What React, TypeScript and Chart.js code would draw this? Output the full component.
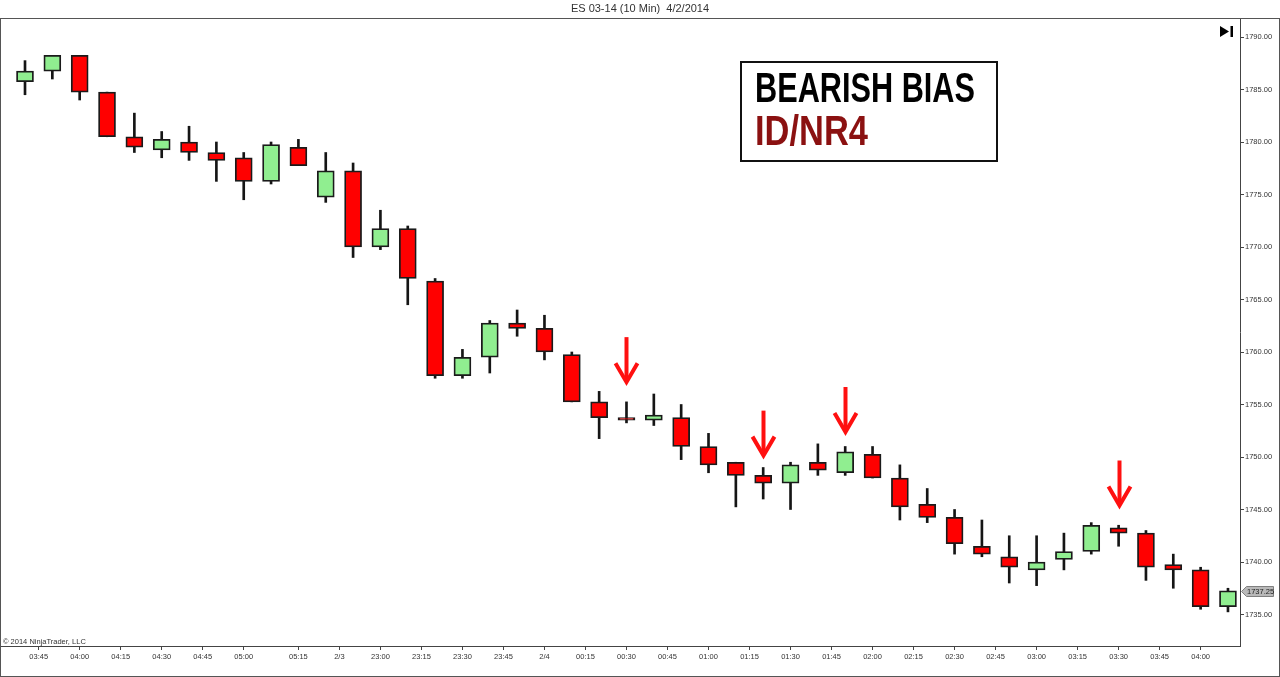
import React, { useEffect, useRef } from "react";
import { Chart, registerables } from "chart.js";

Chart.register(...registerables);

// ---- Data (ES 03-14, 10 Min bars) ----
const opens = [
  1785.75, 1786.75, 1788.25, 1784.75, 1780.5, 1779.25, 1780.0, 1779.0, 1778.5, 1776.25,
  1779.5, 1774.75, 1777.25, 1770.0, 1771.75, 1766.75, 1757.75, 1759.5, 1762.75, 1762.25,
  1759.75, 1755.25, 1753.75, 1753.5, 1753.75, 1751.0, 1749.5, 1748.25, 1747.5, 1749.5,
  1748.5, 1750.25, 1748.0, 1745.5, 1744.25, 1741.5, 1740.5, 1739.25, 1740.25, 1741.0,
  1743.25, 1742.75, 1739.75, 1739.25, 1735.75,
];
const highs = [
  1787.75, 1788.25, 1788.25, 1784.75, 1782.75, 1781.0, 1781.5, 1780.0, 1779.0, 1780.0,
  1780.25, 1779.0, 1778.0, 1773.5, 1772.0, 1767.0, 1760.25, 1763.0, 1764.0, 1763.5,
  1760.0, 1756.25, 1755.25, 1756.0, 1755.0, 1752.25, 1749.5, 1749.0, 1749.5, 1751.25,
  1751.0, 1751.0, 1749.25, 1747.0, 1745.0, 1744.0, 1742.5, 1742.5, 1742.75, 1743.75,
  1743.5, 1743.0, 1740.75, 1739.5, 1737.5,
];
const lows = [
  1784.5, 1786.0, 1784.0, 1780.5, 1779.0, 1778.5, 1778.25, 1776.25, 1774.5, 1776.0,
  1777.75, 1774.25, 1769.0, 1769.75, 1764.5, 1757.5, 1757.5, 1758.0, 1761.5, 1759.25,
  1755.25, 1751.75, 1753.25, 1753.0, 1749.75, 1748.5, 1745.25, 1746.0, 1745.0, 1748.25,
  1748.25, 1748.0, 1744.0, 1743.75, 1740.75, 1740.5, 1738.0, 1737.75, 1739.25, 1740.75,
  1741.5, 1738.25, 1737.5, 1735.5, 1735.25,
];
const closes = [
  1786.75, 1788.25, 1784.75, 1780.5, 1779.5, 1780.25, 1779.0, 1778.25, 1776.25, 1779.75,
  1777.75, 1777.25, 1770.0, 1771.75, 1767.0, 1757.75, 1759.5, 1762.75, 1762.25, 1760.0,
  1755.25, 1753.75, 1753.5, 1754.0, 1751.0, 1749.25, 1748.25, 1747.5, 1749.25, 1748.75,
  1750.5, 1748.0, 1745.25, 1744.25, 1741.75, 1740.75, 1739.5, 1740.0, 1741.0, 1743.5,
  1742.75, 1739.5, 1739.25, 1735.75, 1737.25,
];

// x-axis tick positions (bar index units) and labels
const xTickPositions = [
  0.5, 2, 3.5, 5, 6.5, 8, 10, 11.5, 13, 14.5, 16, 17.5, 19, 20.5, 22,
  23.5, 25, 26.5, 28, 29.5, 31, 32.5, 34, 35.5, 37, 38.5, 40, 41.5, 43,
];
const xTickLabels = [
  "03:45", "04:00", "04:15", "04:30", "04:45", "05:00", "05:15", "2/3", "23:00", "23:15",
  "23:30", "23:45", "2/4", "00:15", "00:30", "00:45", "01:00", "01:15", "01:30", "01:45",
  "02:00", "02:15", "02:30", "02:45", "03:00", "03:15", "03:30", "03:45", "04:00",
];
const yTicks = [1735, 1740, 1745, 1750, 1755, 1760, 1765, 1770, 1775, 1780, 1785, 1790];

// ID/NR4 signal arrows: bar index and arrow tip price
const arrowBars = [22, 27, 30, 40];
const arrowTips = [1756.75, 1749.75, 1752.0, 1745.0];

const titleText = "ES 03-14 (10 Min)  4/2/2014";
const noteLine1 = "BEARISH BIAS";
const noteLine2 = "ID/NR4";
const copyrightText = "\u00A9 2014 NinjaTrader, LLC";

const FONT = "'Liberation Sans', Arial, sans-serif";
const UP = "#90ee90";
const DOWN = "#ff0000";

const overlayPlugin = {
  id: "overlay",
  afterDraw(chart: any) {
    const ctx = chart.ctx as CanvasRenderingContext2D;
    const xs = chart.scales.x;
    const ys = chart.scales.y;
    const ca = chart.chartArea;
    ctx.save();

    // outer frame
    ctx.strokeStyle = "#555";
    ctx.lineWidth = 1;
    ctx.strokeRect(0.5, ca.top + 0.5, chart.width - 1, chart.height - ca.top - 1);

    // title
    ctx.fillStyle = "#333";
    ctx.font = `11px ${FONT}`;
    ctx.textAlign = "center";
    ctx.textBaseline = "middle";
    ctx.fillText(titleText, chart.width / 2, 9);

    // go-to-end icon
    ctx.fillStyle = "#000";
    ctx.beginPath();
    ctx.moveTo(1220, 26);
    ctx.lineTo(1229, 31.5);
    ctx.lineTo(1220, 37);
    ctx.closePath();
    ctx.fill();
    ctx.fillRect(1230.5, 26, 2.5, 11);

    // copyright
    ctx.fillStyle = "#333";
    ctx.font = `7.5px ${FONT}`;
    ctx.textAlign = "left";
    ctx.textBaseline = "middle";
    ctx.fillText(copyrightText, 3, 641.5);

    // annotation box
    ctx.fillStyle = "#fff";
    ctx.fillRect(741, 62, 256, 99);
    ctx.strokeStyle = "#111";
    ctx.lineWidth = 2;
    ctx.strokeRect(741, 62, 256, 99);
    ctx.textAlign = "left";
    ctx.textBaseline = "alphabetic";
    ctx.font = `bold 42px ${FONT}`;
    ctx.fillStyle = "#000";
    ctx.fillText(noteLine1, 755, 102, 220);
    ctx.fillStyle = "#8b1111";
    ctx.fillText(noteLine2, 755, 145, 113);

    // arrows
    ctx.strokeStyle = "#ff1010";
    ctx.lineWidth = 4;
    ctx.lineCap = "butt";
    ctx.lineJoin = "miter";
    arrowBars.forEach((b, i) => {
      const x = Math.round(xs.getPixelForValue(b)) + 0.5;
      const tip = ys.getPixelForValue(arrowTips[i]);
      const v = tip - 4;
      ctx.beginPath();
      ctx.moveTo(x, tip - 49);
      ctx.lineTo(x, v - 2);
      ctx.stroke();
      ctx.beginPath();
      ctx.moveTo(x - 11, v - 19);
      ctx.lineTo(x, v);
      ctx.lineTo(x + 11, v - 19);
      ctx.stroke();
    });

    // last price tag
    const last = closes[closes.length - 1];
    const py = Math.round(ys.getPixelForValue(last)) + 0.5;
    ctx.beginPath();
    ctx.moveTo(1241.5, py);
    ctx.lineTo(1246.5, py - 5);
    ctx.lineTo(1273.5, py - 5);
    ctx.lineTo(1273.5, py + 5);
    ctx.lineTo(1246.5, py + 5);
    ctx.closePath();
    ctx.fillStyle = "#b9b9b9";
    ctx.fill();
    ctx.strokeStyle = "#808080";
    ctx.lineWidth = 1;
    ctx.stroke();
    ctx.fillStyle = "#222";
    ctx.font = `7.5px ${FONT}`;
    ctx.textBaseline = "middle";
    ctx.fillText(last.toFixed(2), 1247, py + 0.5);

    ctx.restore();
  },
};

export default function App() {
  const canvasRef = useRef<HTMLCanvasElement | null>(null);

  useEffect(() => {
    document.body.style.margin = "0";
    const canvas = canvasRef.current;
    if (!canvas) return;

    const wickData = highs.map((h, i) => ({ x: i, y: [lows[i], h] }));
    const bodyData = opens.map((o, i) => ({ x: i, y: [o, closes[i]] }));
    const bodyColors = opens.map((o, i) => (closes[i] >= o ? UP : DOWN));

    const chart = new Chart(canvas, {
      type: "bar",
      data: {
        datasets: [
          {
            label: "Wicks",
            data: wickData as any,
            backgroundColor: "#151515",
            barThickness: 2,
            grouped: false,
            order: 2,
          },
          {
            label: "Bodies",
            data: bodyData as any,
            backgroundColor: bodyColors,
            borderColor: "#1a1a1a",
            borderWidth: 1.8,
            borderSkipped: false,
            barThickness: 17,
            grouped: false,
            order: 1,
          },
        ],
      },
      options: {
        responsive: false,
        animation: false,
        events: [],
        devicePixelRatio: 1,
        layout: { padding: { top: 18, left: 1, right: 1, bottom: 1 } },
        plugins: {
          legend: { display: false },
          tooltip: { enabled: false },
          title: { display: false },
        },
        scales: {
          x: {
            type: "linear",
            min: -0.878,
            max: 44.44,
            offset: false,
            grid: {
              offset: false,
              drawOnChartArea: false,
              drawTicks: true,
              tickLength: 4,
              color: "#444",
            },
            border: { display: true, color: "#444", width: 1 },
            ticks: {
              autoSkip: false,
              maxRotation: 0,
              padding: 2,
              color: "#333",
              font: { family: FONT, size: 7.5 },
              callback: (_v: any, i: number) => xTickLabels[i],
            },
            afterBuildTicks: (axis: any) => {
              axis.ticks = xTickPositions.map((v) => ({ value: v }));
            },
            afterFit: (axis: any) => {
              axis.height = 30;
            },
          },
          y: {
            type: "linear",
            position: "right",
            min: 1732.0,
            max: 1791.81,
            beginAtZero: false,
            grid: {
              drawOnChartArea: false,
              drawTicks: true,
              tickLength: 4,
              color: "#444",
            },
            border: { display: true, color: "#444", width: 1 },
            ticks: {
              padding: 1,
              color: "#333",
              font: { family: FONT, size: 7.5 },
              callback: (v: any) => Number(v).toFixed(2),
            },
            afterBuildTicks: (axis: any) => {
              axis.ticks = yTicks.map((v) => ({ value: v }));
            },
            afterFit: (axis: any) => {
              axis.width = 39;
            },
          },
        },
      },
      plugins: [overlayPlugin],
    });

    return () => {
      chart.destroy();
    };
  }, []);

  return (
    <div style={{ position: "fixed", left: 0, top: 0, width: 1280, height: 677, background: "#fff" }}>
      <canvas ref={canvasRef} width={1280} height={677} style={{ display: "block" }} />
    </div>
  );
}
